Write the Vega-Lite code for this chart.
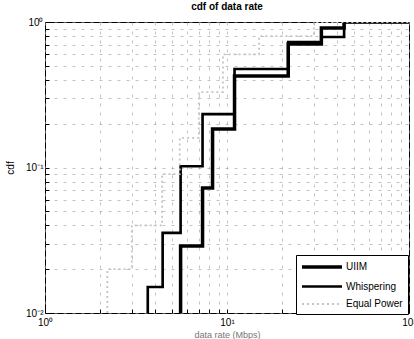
{
  "$schema": "https://vega.github.io/schema/vega-lite/v6.json",
  "width": 364,
  "height": 291,
  "autosize": "none",
  "padding": {"left": 45, "top": 22, "right": 5, "bottom": 26},
  "background": "white",
  "config": {
    "font": "Liberation Sans",
    "view": {"stroke": "black", "strokeWidth": 1},
    "axis": {
      "domain": false,
      "gridColor": "#999999",
      "gridDash": [3, 6],
      "gridOpacity": 0.6,
      "gridWidth": 1,
      "tickColor": "black",
      "tickSize": -4,
      "labelFontSize": 10,
      "labelColor": "black",
      "titleFontSize": 10,
      "titleFontWeight": "normal",
      "titleColor": "black"
    }
  },
  "title": {"text": "cdf of data rate", "fontSize": 10, "fontWeight": "bold", "offset": 5, "color": "black"},
  "data": {
    "values": [
      {"series": "UIIM", "rate": 5.56, "cdf": 0.01},
      {"series": "UIIM", "rate": 5.56, "cdf": 0.0289},
      {"series": "UIIM", "rate": 7.34, "cdf": 0.0723},
      {"series": "UIIM", "rate": 8.33, "cdf": 0.184},
      {"series": "UIIM", "rate": 11.0, "cdf": 0.425},
      {"series": "UIIM", "rate": 21.7, "cdf": 0.706},
      {"series": "UIIM", "rate": 33.0, "cdf": 0.909},
      {"series": "UIIM", "rate": 44.0, "cdf": 1.0},
      {"series": "UIIM", "rate": 100, "cdf": 1.0},
      {"series": "Whispering", "rate": 3.67, "cdf": 0.01},
      {"series": "Whispering", "rate": 3.67, "cdf": 0.0151},
      {"series": "Whispering", "rate": 4.43, "cdf": 0.0355},
      {"series": "Whispering", "rate": 5.56, "cdf": 0.102},
      {"series": "Whispering", "rate": 7.34, "cdf": 0.233},
      {"series": "Whispering", "rate": 11.0, "cdf": 0.475},
      {"series": "Whispering", "rate": 21.7, "cdf": 0.729},
      {"series": "Whispering", "rate": 33.0, "cdf": 0.789},
      {"series": "Whispering", "rate": 44.0, "cdf": 1.0},
      {"series": "Whispering", "rate": 100, "cdf": 1.0},
      {"series": "Equal Power", "rate": 2.2, "cdf": 0.01},
      {"series": "Equal Power", "rate": 2.2, "cdf": 0.02},
      {"series": "Equal Power", "rate": 3.0, "cdf": 0.04},
      {"series": "Equal Power", "rate": 4.4, "cdf": 0.09},
      {"series": "Equal Power", "rate": 5.5, "cdf": 0.16},
      {"series": "Equal Power", "rate": 7.0, "cdf": 0.33},
      {"series": "Equal Power", "rate": 9.5, "cdf": 0.6},
      {"series": "Equal Power", "rate": 15.0, "cdf": 0.8},
      {"series": "Equal Power", "rate": 30.0, "cdf": 1.0},
      {"series": "Equal Power", "rate": 100, "cdf": 1.0}
    ]
  },
  "mark": {"type": "line", "interpolate": "step-after", "clip": true},
  "encoding": {
    "x": {
      "field": "rate",
      "type": "quantitative",
      "scale": {"type": "log", "domain": [1, 100], "nice": false},
      "axis": {
        "title": "data rate (Mbps)",
        "titleColor": "#777777",
        "titleFontSize": 9,
        "titlePadding": 3,
        "values": [1, 2, 3, 4, 5, 6, 7, 8, 9, 10, 20, 30, 40, 50, 60, 70, 80, 90, 100],
        "labelExpr": "datum.value == 1 ? '10⁰' : datum.value == 10 ? '10¹' : datum.value == 100 ? '10²' : ''",
        "labelPadding": 8,
        "labelFlush": false
      }
    },
    "y": {
      "field": "cdf",
      "type": "quantitative",
      "scale": {"type": "log", "domain": [0.01, 1], "nice": false},
      "axis": {
        "title": "cdf",
        "titlePadding": 10,
        "values": [0.01, 0.02, 0.03, 0.04, 0.05, 0.06, 0.07, 0.08, 0.09, 0.1, 0.2, 0.3, 0.4, 0.5, 0.6, 0.7, 0.8, 0.9, 1],
        "labelExpr": "abs(datum.value - 1) < 1e-9 ? '10⁰' : abs(datum.value - 0.1) < 1e-9 ? '10⁻¹' : abs(datum.value - 0.01) < 1e-9 ? '10⁻²' : ''",
        "labelPadding": 6
      }
    },
    "color": {
      "field": "series",
      "type": "nominal",
      "scale": {"domain": ["UIIM", "Whispering", "Equal Power"], "range": ["black", "black", "#c4c4c4"]},
      "legend": {
        "title": null,
        "orient": "none",
        "legendX": 251,
        "legendY": 233,
        "symbolType": "M-1.2,0H6.8",
        "symbolSize": 100,
        "labelFontSize": 10,
        "labelColor": "black",
        "strokeColor": "black",
        "fillColor": "white",
        "padding": 5,
        "rowPadding": 6,
        "labelOffset": 31
      }
    },
    "strokeWidth": {
      "field": "series",
      "type": "nominal",
      "scale": {"domain": ["UIIM", "Whispering", "Equal Power"], "range": [3.5, 1.8, 1]},
      "legend": null
    },
    "strokeDash": {
      "field": "series",
      "type": "nominal",
      "scale": {"domain": ["UIIM", "Whispering", "Equal Power"], "range": [[1, 0], [1, 0], [2, 3]]},
      "legend": null
    }
  }
}
